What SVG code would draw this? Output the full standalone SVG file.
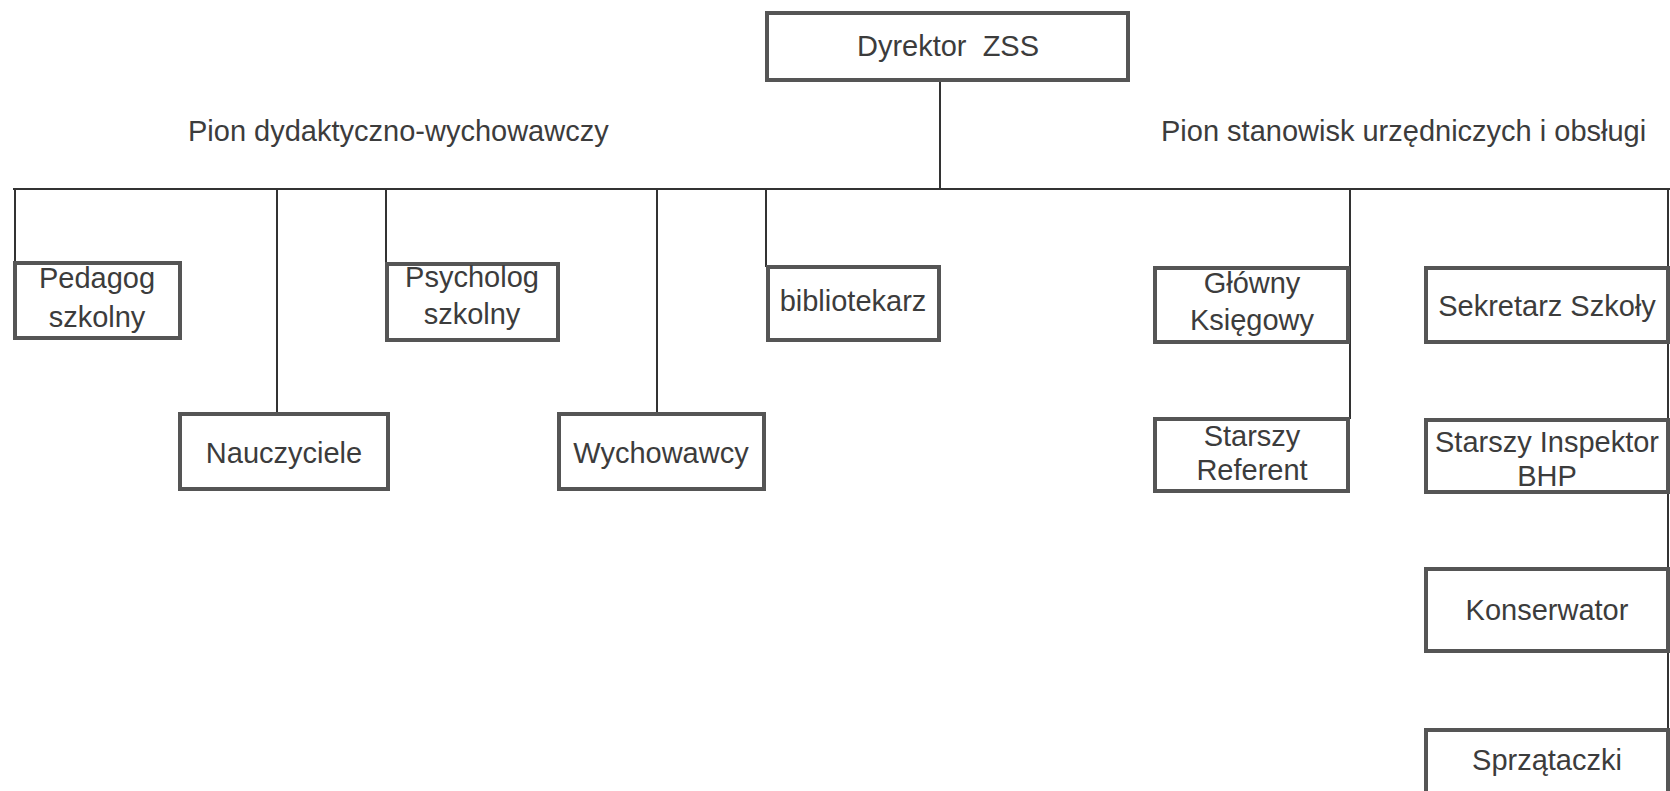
<svg xmlns="http://www.w3.org/2000/svg" width="1670" height="791" viewBox="0 0 1670 791">
<style>
.box{fill:#fff;stroke:#555;stroke-width:4}
.t{font-family:"Liberation Sans",Arial,sans-serif;font-size:29px;fill:#3c3c3c;text-anchor:middle}
.lbl{font-family:"Liberation Sans",Arial,sans-serif;font-size:29px;fill:#3c3c3c}
.c{stroke:#333;stroke-width:2;fill:none}
</style>
<rect width="1670" height="791" fill="#fff"/>
<g id="connectors">
<line class="c" x1="940" y1="82" x2="940" y2="189"/>
<line class="c" x1="13" y1="189" x2="1670" y2="189"/>
<line class="c" x1="15" y1="189" x2="15" y2="263"/>
<line class="c" x1="277" y1="189" x2="277" y2="414"/>
<line class="c" x1="386" y1="189" x2="386" y2="264"/>
<line class="c" x1="657" y1="189" x2="657" y2="414"/>
<line class="c" x1="766" y1="189" x2="766" y2="267"/>
<line class="c" x1="1350" y1="189" x2="1350" y2="419"/>
<line class="c" x1="1668" y1="189" x2="1668" y2="791"/>
</g>
<g id="labels">
<text class="lbl" x="188" y="141">Pion dydaktyczno-wychowawczy</text>
<text class="lbl" x="1161" y="141">Pion stanowisk urzędniczych i obsługi</text>
</g>
<g id="dyrektor"><rect class="box" x="767" y="13" width="361" height="67"/><text class="t" x="948" y="56" xml:space="preserve">Dyrektor  ZSS</text></g>
<g id="pedagog"><rect class="box" x="15" y="263" width="165" height="75"/><text class="t" x="97" y="288">Pedagog</text><text class="t" x="97" y="327">szkolny</text></g>
<g id="psycholog"><rect class="box" x="387" y="264" width="171" height="76"/><text class="t" x="472" y="287">Psycholog</text><text class="t" x="472" y="324">szkolny</text></g>
<g id="bibliotekarz"><rect class="box" x="768" y="267" width="171" height="73"/><text class="t" x="853" y="311">bibliotekarz</text></g>
<g id="nauczyciele"><rect class="box" x="180" y="414" width="208" height="75"/><text class="t" x="284" y="463">Nauczyciele</text></g>
<g id="wychowawcy"><rect class="box" x="559" y="414" width="205" height="75"/><text class="t" x="661" y="463">Wychowawcy</text></g>
<g id="glowny-ksiegowy"><rect class="box" x="1155" y="268" width="193" height="74"/><text class="t" x="1252" y="293">Główny</text><text class="t" x="1252" y="330">Księgowy</text></g>
<g id="starszy-referent"><rect class="box" x="1155" y="419" width="193" height="72"/><text class="t" x="1252" y="446">Starszy</text><text class="t" x="1252" y="480">Referent</text></g>
<g id="sekretarz"><rect class="box" x="1426" y="268" width="242" height="74"/><text class="t" x="1547" y="316">Sekretarz Szkoły</text></g>
<g id="inspektor-bhp"><rect class="box" x="1426" y="420" width="242" height="72"/><text class="t" x="1547" y="452">Starszy Inspektor</text><text class="t" x="1547" y="486">BHP</text></g>
<g id="konserwator"><rect class="box" x="1426" y="569" width="242" height="82"/><text class="t" x="1547" y="620">Konserwator</text></g>
<g id="sprzataczki"><rect class="box" x="1426" y="730" width="242" height="70"/><text class="t" x="1547" y="770">Sprzątaczki</text></g>
</svg>
